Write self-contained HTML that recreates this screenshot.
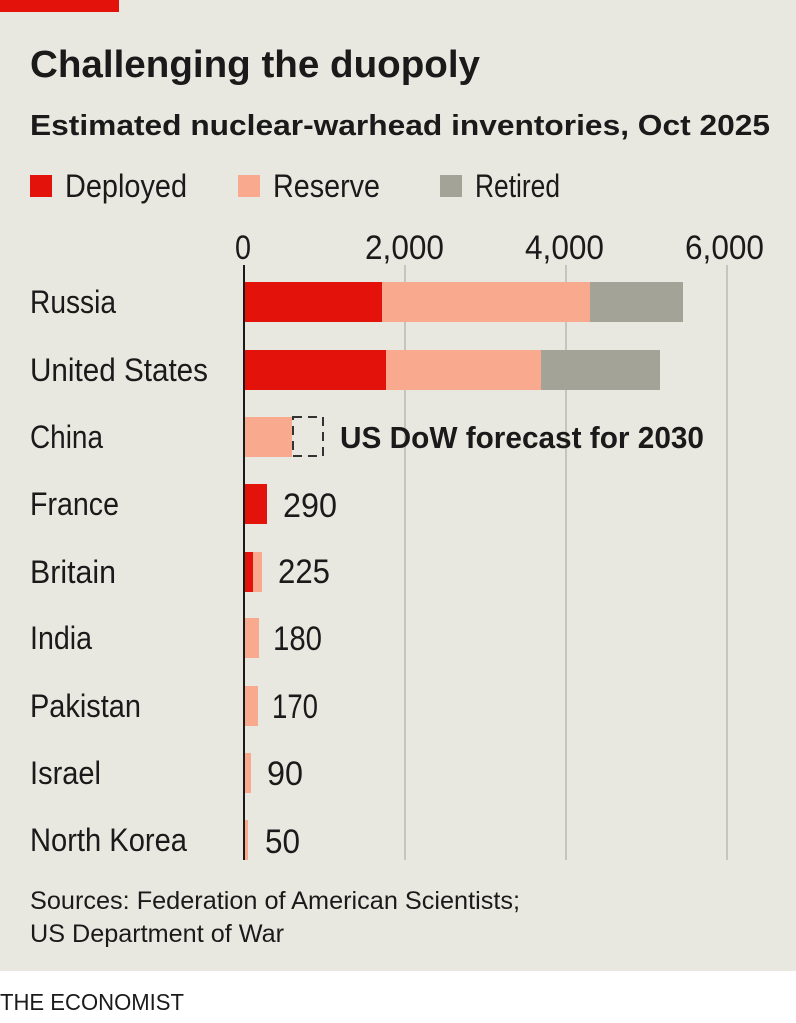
<!DOCTYPE html>
<html><head><meta charset="utf-8"><style>
body{margin:0;width:796px;height:1023px;overflow:hidden;background:#fff}
svg{display:block}
text{font-family:"Liberation Sans Narrow","Liberation Sans",sans-serif;fill:#1a1a1a}
</style></head><body>
<svg width="796" height="1023" viewBox="0 0 796 1023">
<rect x="0" y="0" width="796" height="971" fill="#e9e8e0"/>
<rect x="0" y="0" width="119" height="12" fill="#e3120b"/>
<text x="30" y="77" font-size="38" font-weight="bold" textLength="450" lengthAdjust="spacingAndGlyphs">Challenging the duopoly</text>
<text x="30" y="135" font-size="29" font-weight="bold" fill="#222" textLength="740" lengthAdjust="spacingAndGlyphs">Estimated nuclear-warhead inventories, Oct 2025</text>
<rect x="30" y="175" width="22" height="22" fill="#e3120b"/>
<text x="65" y="197" font-size="32" textLength="122" lengthAdjust="spacingAndGlyphs">Deployed</text>
<rect x="238" y="175" width="22" height="22" fill="#f9a98e"/>
<text x="273" y="197" font-size="32" textLength="107" lengthAdjust="spacingAndGlyphs">Reserve</text>
<rect x="440" y="175" width="22" height="22" fill="#a4a398"/>
<text x="475" y="197" font-size="32" textLength="85" lengthAdjust="spacingAndGlyphs">Retired</text>
<g font-size="34">
<text x="235" y="259" textLength="16" lengthAdjust="spacingAndGlyphs">0</text>
<text x="365" y="259" textLength="79" lengthAdjust="spacingAndGlyphs">2,000</text>
<text x="525" y="259" textLength="79" lengthAdjust="spacingAndGlyphs">4,000</text>
<text x="685" y="259" textLength="79" lengthAdjust="spacingAndGlyphs">6,000</text>
</g>
<g stroke="#c6c5bd" stroke-width="2">
<line x1="405" y1="265" x2="405" y2="860"/><line x1="566" y1="265" x2="566" y2="860"/><line x1="727" y1="265" x2="727" y2="860"/>
</g>
<g font-size="32">
<text x="30" y="313" textLength="86" lengthAdjust="spacingAndGlyphs">Russia</text>
<text x="30" y="381" textLength="178" lengthAdjust="spacingAndGlyphs">United States</text>
<text x="30" y="448" textLength="73" lengthAdjust="spacingAndGlyphs">China</text>
<text x="30" y="515" textLength="89" lengthAdjust="spacingAndGlyphs">France</text>
<text x="30" y="583" textLength="86" lengthAdjust="spacingAndGlyphs">Britain</text>
<text x="30" y="649" textLength="62" lengthAdjust="spacingAndGlyphs">India</text>
<text x="30" y="717" textLength="111" lengthAdjust="spacingAndGlyphs">Pakistan</text>
<text x="30" y="784" textLength="71" lengthAdjust="spacingAndGlyphs">Israel</text>
<text x="30" y="851" textLength="157" lengthAdjust="spacingAndGlyphs">North Korea</text>
</g>
<rect x="244" y="282" width="138" height="40" fill="#e3120b"/>
<rect x="382" y="282" width="208" height="40" fill="#f9a98e"/>
<rect x="590" y="282" width="93" height="40" fill="#a4a398"/>
<rect x="244" y="350" width="142" height="40" fill="#e3120b"/>
<rect x="386" y="350" width="155" height="40" fill="#f9a98e"/>
<rect x="541" y="350" width="119" height="40" fill="#a4a398"/>
<rect x="244" y="417" width="48" height="40" fill="#f9a98e"/>
<rect x="293" y="417" width="30" height="39" fill="none" stroke="#333" stroke-width="2" stroke-dasharray="9,6"/>
<text x="340" y="448" font-size="31" font-weight="bold" textLength="364" lengthAdjust="spacingAndGlyphs">US DoW forecast for 2030</text>
<rect x="244" y="484" width="23" height="40" fill="#e3120b"/>
<rect x="244" y="552" width="9" height="40" fill="#e3120b"/>
<rect x="253" y="552" width="9" height="40" fill="#f9a98e"/>
<rect x="244" y="618" width="15" height="40" fill="#f9a98e"/>
<rect x="244" y="686" width="14" height="40" fill="#f9a98e"/>
<rect x="244" y="753" width="7" height="40" fill="#f9a98e"/>
<rect x="244" y="820" width="4" height="40" fill="#f9a98e"/>
<line x1="244" y1="265" x2="244" y2="860" stroke="#1a1a1a" stroke-width="2"/>
<g font-size="34">
<text x="283" y="517" textLength="54" lengthAdjust="spacingAndGlyphs">290</text>
<text x="278" y="583" textLength="52" lengthAdjust="spacingAndGlyphs">225</text>
<text x="273" y="650" textLength="49" lengthAdjust="spacingAndGlyphs">180</text>
<text x="272" y="718" textLength="46" lengthAdjust="spacingAndGlyphs">170</text>
<text x="267" y="785" textLength="36" lengthAdjust="spacingAndGlyphs">90</text>
<text x="265" y="853" textLength="35" lengthAdjust="spacingAndGlyphs">50</text>
</g>
<text x="30" y="909" font-size="25" fill="#777" textLength="490" lengthAdjust="spacingAndGlyphs">Sources: Federation of American Scientists;</text>
<text x="30" y="942" font-size="25" fill="#777" textLength="254" lengthAdjust="spacingAndGlyphs">US Department of War</text>
<text x="0" y="1010" font-size="23" fill="#3a3a3a" textLength="184" lengthAdjust="spacingAndGlyphs">THE ECONOMIST</text>
</svg>
</body></html>
